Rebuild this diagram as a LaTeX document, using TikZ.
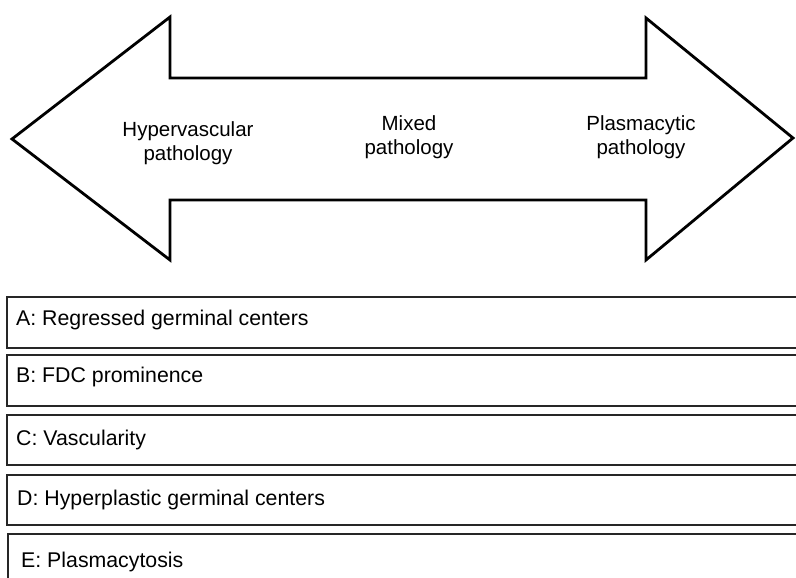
\documentclass[tikz,border=0pt]{standalone}
\usepackage{fontspec}
\setmainfont{Liberation Sans}
\begin{document}
\begin{tikzpicture}[x=1pt,y=-1pt,
  arrowline/.style={draw=black,line width=2.8pt,line join=miter},
  boxline/.style={draw=black!85,line width=2pt},
  arrowtext/.style={align=center,font=\fontsize{20.5}{24.5}\selectfont,inner sep=0pt},
  boxtext/.style={anchor=base west,font=\fontsize{21.3}{25}\selectfont,inner sep=0pt}]
\useasboundingbox (0,0) rectangle (796,578);
% double arrow
\draw[arrowline] (12,139) -- (170,17) -- (170,78) -- (646,78) -- (646,18)
  -- (793,138) -- (646,260) -- (646,200) -- (170,200) -- (170,260) -- cycle;
\node[arrowtext] (hyper) at (188,143) {Hypervascular\\pathology};
\node[arrowtext] (mixed) at (409,137) {Mixed\\pathology};
\node[arrowtext] (plasma) at (641,137) {Plasmacytic\\pathology};
% boxes
\draw[boxline] (7,297) rectangle (810,348);
\draw[boxline] (7,355) rectangle (810,406);
\draw[boxline] (7,415) rectangle (810,465);
\draw[boxline] (7,475) rectangle (810,525);
\draw[boxline] (8,534) rectangle (810,600);
\node[boxtext] (a) at (16,325) {A: Regressed germinal centers};
\node[boxtext] (b) at (16,382) {B: FDC prominence};
\node[boxtext] (c) at (16,445) {C: Vascularity};
\node[boxtext] (d) at (17,505) {D: Hyperplastic germinal centers};
\node[boxtext] (e) at (21,567) {E: Plasmacytosis};
\end{tikzpicture}
\end{document}
